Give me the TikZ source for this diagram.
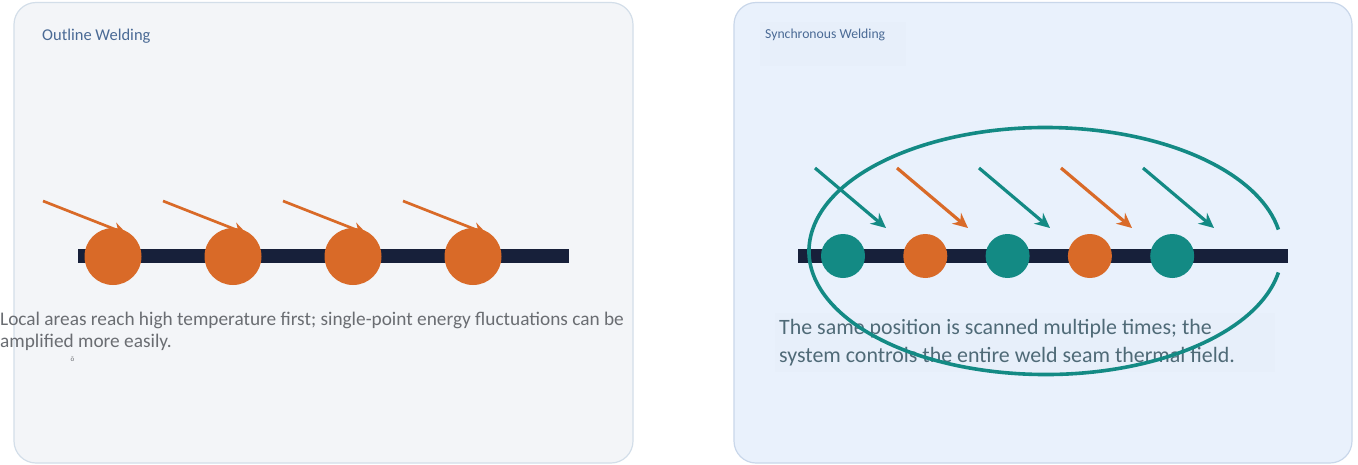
\documentclass[tikz,border=0pt]{standalone}
\usepackage{fontspec}
\setmainfont{Carlito}
\usetikzlibrary{arrows.meta}
\definecolor{panelLfill}{HTML}{F3F5F8}
\definecolor{panelLline}{HTML}{D3DEE9}
\definecolor{panelRfill}{HTML}{E9F1FC}
\definecolor{panelRline}{HTML}{C9D7EA}
\definecolor{weldorange}{HTML}{D96A28}
\definecolor{weldteal}{HTML}{138A84}
\definecolor{barnavy}{HTML}{17203A}
\definecolor{titleblue}{HTML}{4A6A95}
\definecolor{leftgray}{HTML}{6A6D72}
\definecolor{rightgray}{HTML}{4F6A77}
\definecolor{tintbox}{HTML}{E2EAF6}
\begin{document}
\begin{tikzpicture}[x=1pt,y=-1pt,
  panelbox/.style={rounded corners=22pt,line width=1.2pt},
  seam/.style={draw=barnavy,line width=14pt},
  lspot/.style={circle,fill=weldorange,minimum size=57pt,inner sep=0pt},
  rspot/.style={circle,minimum size=44pt,inner sep=0pt},
  larrow/.style={draw=weldorange,line width=2.7pt,-{Stealth[length=14pt,width=13pt]}},
  rarrow/.style={line width=3.2pt,-{Stealth[length=15pt,width=14pt]}},
  ttl/.style={anchor=base west,inner sep=0pt,text=titleblue},
  ltxt/.style={anchor=base west,inner sep=0pt,text=leftgray,font=\fontsize{19.3}{22}\selectfont},
  rtxt/.style={anchor=base west,inner sep=0pt,text=rightgray,font=\fontsize{21.9}{26}\selectfont}
]
\useasboundingbox (0,0) rectangle (1358,464);
\fill[white] (0,0) rectangle (1358,464);
% panels
\draw[panelbox,fill=panelLfill,draw=panelLline] (14,2.5) rectangle (633,463);
\draw[panelbox,fill=panelRfill,draw=panelRline] (734,2.5) rectangle (1352,463);
% titles
\fill[tintbox,opacity=0.25] (760,22) rectangle (906,66);
\node[ttl,font=\fontsize{16.5}{20}\selectfont] (tl) at (42,40.5) {Outline Welding};
\node[ttl,font=\fontsize{13.7}{16}\selectfont] (tr) at (765,38) {Synchronous Welding};
% ---- left panel
\coordinate (lbarA) at (78,256);
\coordinate (lbarB) at (569,256);
\draw[seam] (lbarA) -- (lbarB);
\foreach \i in {0,1,2,3}{
  \coordinate (ls\i) at ({43+120*\i},201);
  \coordinate (le\i) at ({127+120*\i},234);
  \draw[larrow] (ls\i) -- (le\i);
  \node[lspot] (lc\i) at ({113+120*\i},256.5) {};
}
\node[ltxt] (lt1) at (0,325) {Local areas reach high temperature first; single-point energy fluctuations can be};
\node[ltxt] (lt2) at (0,347) {amplified more easily.};
\node[anchor=base west,inner sep=0pt,text=leftgray,font=\fontsize{7}{8}\selectfont] (ldot) at (70.5,361) {ō};
% ---- right panel
\fill[tintbox,opacity=0.25] (775,313) rectangle (1275,372);
\coordinate (rbarA) at (798,256);
\coordinate (rbarB) at (1288,256);
\draw[seam] (rbarA) -- (rbarB);
\foreach \i/\c in {0/weldteal,1/weldorange,2/weldteal,3/weldorange,4/weldteal}{
  \coordinate (rs\i) at ({815+82*\i},168);
  \coordinate (re\i) at ({886+82*\i},228);
  \draw[rarrow,draw=\c,fill=\c] (rs\i) -- (re\i);
  \node[rspot,fill=\c] (rc\i) at ({843+82.3*\i},256) {};
}
\node[rtxt] (rt1) at (779,334) {The same position is scanned multiple times; the};
\node[rtxt] (rt2) at (779,362) {system controls the entire weld seam thermal field.};
% enclosing ellipse with gap on the right
\coordinate (ec) at (1045.5,251);
\draw[weldteal,line width=3.6pt] (ec) ++(10:236.5 and 123.5)
  arc[start angle=10,end angle=350,x radius=236.5,y radius=123.5];
\end{tikzpicture}
\end{document}
